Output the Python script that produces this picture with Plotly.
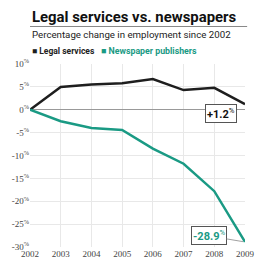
import plotly.graph_objects as go

years = [2002, 2003, 2004, 2005, 2006, 2007, 2008, 2009]
legal = [0, 5.0, 5.5, 5.8, 6.7, 4.3, 4.8, 1.2]
news = [0, -2.5, -4.0, -4.4, -8.5, -11.8, -17.8, -28.9]
yticks = [10, 5, 0, -5, -10, -15, -20, -25, -30]
ytick_text = [f"{v}<sup>%</sup>" for v in yticks]

BLACK = "#1e1e1e"
TEAL = "#1a9a84"
SANS = "Roboto, Liberation Sans, sans-serif"

fig = go.Figure()
fig.add_trace(go.Scatter(x=years, y=legal, mode="lines", line=dict(color=BLACK, width=2.5),
                         name="Legal services", showlegend=False))
fig.add_trace(go.Scatter(x=years, y=news, mode="lines", line=dict(color=TEAL, width=2.5),
                         name="Newspaper publishers", showlegend=False))

fig.update_layout(
    width=258, height=261,
    margin=dict(l=30, r=13, t=64, b=14),
    paper_bgcolor="white", plot_bgcolor="white",
    font=dict(family="Liberation Serif", size=9, color="#444"),
    xaxis=dict(range=[2002, 2009], tickvals=years, ticktext=[str(y) for y in years],
               showgrid=True, gridcolor="#e8e8e8", gridwidth=1, zeroline=False, automargin=False,
               tickfont=dict(size=9, color="#444"), ticks="", fixedrange=True),
    yaxis=dict(range=[-30, 10], tickvals=yticks, ticktext=ytick_text,
               showgrid=True, gridcolor="#e8e8e8", gridwidth=1, automargin=False,
               zeroline=True, zerolinecolor="#999", zerolinewidth=1,
               tickfont=dict(size=9, color="#444"), ticks="", fixedrange=True),
)

# Title, rule and subtitle
fig.add_annotation(xref="paper", yref="paper", x=0, y=1.0, yshift=47, xanchor="left", yanchor="middle",
                   text="<b>Legal services vs. newspapers</b>", showarrow=False,
                   font=dict(family=SANS, size=14.9, color="#111"))
fig.add_shape(type="line", xref="paper", yref="paper", x0=0, x1=1.01, y0=1.205, y1=1.205,
              line=dict(color="#888", width=1))
fig.add_annotation(xref="paper", yref="paper", x=0, y=1.0, yshift=30, xanchor="left", yanchor="middle",
                   text="Percentage change in employment since 2002", showarrow=False,
                   font=dict(family=SANS, size=9.7, color="#222"))
# legend
fig.add_annotation(xref="paper", yref="paper", x=0, y=1.0, yshift=13, xanchor="left", yanchor="middle",
                   text=f"<span style='color:{BLACK}'>■</span> <b>Legal services</b>", showarrow=False,
                   font=dict(family=SANS, size=8.5, color="#222"))
fig.add_annotation(xref="paper", yref="paper", x=0.32, y=1.0, yshift=13, xanchor="left", yanchor="middle",
                   text="■ <b>Newspaper publishers</b>", showarrow=False,
                   font=dict(family=SANS, size=8.8, color=TEAL))

# End labels
fig.add_annotation(x=years[-1], y=legal[-1], xref="x", yref="y",
                   text="<b>+1.2</b><sup>%</sup>", showarrow=False, xshift=-24, yshift=-9,
                   bordercolor="#555", borderwidth=1, bgcolor="white", borderpad=1,
                   font=dict(family=SANS, size=11, color="#111"))
fig.add_annotation(x=years[-1], y=news[-1], xref="x", yref="y", ax=-36, ay=-6,
                   text="<b>-28.9</b><sup>%</sup>", showarrow=True, arrowhead=0, arrowwidth=0.8,
                   arrowcolor="#888", standoff=2,
                   bordercolor="#555", borderwidth=1, bgcolor="white", borderpad=1,
                   font=dict(family=SANS, size=11, color=TEAL))

fig.write_html("out.html", config={"displayModeBar": False},
               post_script="document.body.style.margin='0px';")
